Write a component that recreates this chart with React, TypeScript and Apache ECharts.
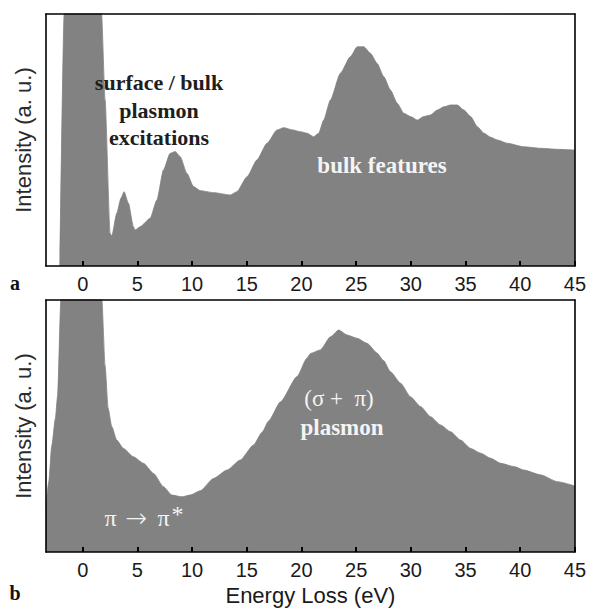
import React, { useEffect, useRef } from "react";
import * as echarts from "echarts";

// Panel a: energy loss (eV) and intensity (a. u., % of frame height; >100 is off-scale)
const energyA = [-2.1, -1.7, -1.6, 0, 1.6, 1.72, 2.04, 2.5, 2.66, 3.11, 3.5, 3.78, 4.18, 4.63, 4.79, 5.25, 6.16, 6.78, 7.38, 7.99, 8.45, 8.91, 9.52, 10.13, 10.74, 11.96, 13.49, 14.1, 15.02, 15.93, 16.85, 17.77, 18.37, 19.2, 19.9, 20.51, 21.12, 21.58, 22.03, 22.65, 23.56, 24.48, 25.09, 25.7, 26.31, 26.92, 27.53, 28.14, 28.75, 29.36, 29.97, 30.59, 31.19, 31.8, 32.42, 33.02, 33.64, 34.25, 34.85, 35.47, 36.08, 36.69, 37.3, 37.91, 38.83, 40.35, 41.88, 43.41, 45];
const intensityA = [0, 100, 130, 130, 130, 100, 66, 13, 11.9, 20.9, 27, 29.5, 24.9, 15.6, 14.3, 15.6, 18.9, 26.2, 38.1, 44.7, 45.4, 43.4, 36.8, 31.5, 29.9, 29.1, 28.2, 29.5, 35.4, 42.1, 48.7, 54, 54.9, 54, 53.3, 52.7, 51.3, 52.7, 57.9, 65.9, 76.5, 83.1, 87, 87, 84.4, 80.4, 75.1, 69.8, 64.6, 60.6, 59.3, 57.9, 59.3, 59.9, 61.9, 63.2, 63.9, 63.9, 61.9, 59.3, 55.3, 52.7, 51.1, 50, 48.7, 47.3, 46.7, 46.3, 46];

// Panel b
const energyB = [-3.36, -3.1, -2.84, -2.5, -2.3, -2.0, -1.9, 0, 1.6, 1.75, 2.04, 2.32, 2.66, 3.11, 3.72, 4.63, 5.55, 6.47, 7.38, 8.15, 9.07, 9.83, 10.74, 11.96, 13.19, 14.4, 15.62, 16.4, 17.0, 18.07, 19.6, 20.5, 20.82, 21.73, 22.65, 23.41, 24.17, 25.09, 26.0, 26.9, 27.5, 28.14, 29.06, 29.97, 30.89, 31.8, 32.72, 33.64, 34.55, 35.47, 36.39, 37.3, 38.22, 39.43, 40.35, 41.88, 43.41, 45];
const intensityB = [18, 28, 42, 53, 62, 100, 130, 130, 130, 100, 74, 57, 49.7, 44.4, 41.1, 37.8, 35.2, 31.2, 25.9, 22.6, 21.9, 22.6, 24.3, 29.2, 32.5, 36.5, 42.5, 47.5, 52, 59.5, 69.6, 76.9, 78.8, 80.2, 85.4, 88.1, 86.1, 84.8, 82.8, 79, 76, 71.5, 67, 61.6, 57.7, 53.7, 50.4, 47.7, 44.4, 41.1, 39.2, 37.2, 35.2, 33.9, 32.5, 30.6, 27.9, 26.2];

const tickValues = [0, 5, 10, 15, 20, 25, 30, 35, 40, 45];
const X_MIN = -3.36;
const X_MAX = 45;

const FILL = "#828282";
const SANS = "'Liberation Sans', Arial, sans-serif";
const SERIF = "'Liberation Serif', 'Times New Roman', serif";

function zip(xs: number[], ys: number[]) {
  return xs.map((x, i) => [x, ys[i]]);
}

export default function App() {
  const ref = useRef<HTMLDivElement>(null);
  useEffect(() => {
    if (!ref.current) return;
    const chart = echarts.init(ref.current, undefined, { renderer: "svg" });
    const grids = [
      { left: 46, top: 14, width: 529, height: 252 },
      { left: 46, top: 300, width: 529, height: 252 },
    ];
    const lineStyle = { color: "#000", width: 1.6 };
    const xAxes: any[] = [];
    const yAxes: any[] = [];
    [0, 1].forEach((g) => {
      xAxes.push({
        type: "value",
        gridIndex: g,
        min: X_MIN,
        max: X_MAX,
        z: 10,
        axisLine: { show: true, onZero: false, lineStyle },
        axisTick: {
          show: true,
          inside: true,
          length: 5,
          customValues: tickValues,
          lineStyle: { color: "#000", width: 2 },
        },
        axisLabel: {
          show: true,
          customValues: tickValues,
          fontFamily: SANS,
          fontSize: 20,
          color: "#1a1a1a",
          margin: 8,
        },
        splitLine: { show: false },
        name: g === 1 ? "Energy Loss (eV)" : "",
        nameLocation: "middle",
        nameGap: 32,
        nameTextStyle: { fontFamily: SANS, fontSize: 22, color: "#1a1a1a" },
      });
      xAxes.push({
        type: "value",
        gridIndex: g,
        position: "top",
        min: X_MIN,
        max: X_MAX,
        z: 10,
        axisLine: { show: true, onZero: false, lineStyle },
        axisTick: { show: false },
        axisLabel: { show: false },
        splitLine: { show: false },
      });
      yAxes.push({
        type: "value",
        gridIndex: g,
        min: 0,
        max: 100,
        z: 10,
        axisLine: { show: true, onZero: false, lineStyle },
        axisTick: { show: false },
        axisLabel: { show: false },
        splitLine: { show: false },
        name: "Intensity (a. u.)",
        nameLocation: "middle",
        nameGap: 12,
        nameTextStyle: { fontFamily: SANS, fontSize: 22, color: "#2a2a2a" },
      });
      yAxes.push({
        type: "value",
        gridIndex: g,
        position: "right",
        min: 0,
        max: 100,
        z: 10,
        axisLine: { show: true, onZero: false, lineStyle },
        axisTick: { show: false },
        axisLabel: { show: false },
        splitLine: { show: false },
      });
    });

    const mkSeries = (data: number[][], g: number) => ({
      type: "line",
      xAxisIndex: g * 2,
      yAxisIndex: g * 2,
      data,
      showSymbol: false,
      smooth: 0.2,
      smoothMonotone: "x",
      clip: true,
      lineStyle: { width: 0.8, color: FILL },
      areaStyle: { color: FILL, opacity: 1 },
      z: 2,
    });

    const boldSerif = (text: string, x: number, y: number, fill: string, size = 22) => ({
      type: "text",
      x,
      y,
      z: 20,
      style: {
        text,
        fill,
        font: `bold ${size}px ${SERIF}`,
        textAlign: "center",
        textVerticalAlign: "middle",
      },
    });
    const plainSerif = (text: string, x: number, y: number, fill: string, size = 22) => ({
      type: "text",
      x,
      y,
      z: 20,
      style: {
        text,
        fill,
        font: `${size}px ${SERIF}`,
        textAlign: "center",
        textVerticalAlign: "middle",
      },
    });

    const WHITE = "#f4f4f4";
    chart.setOption({
      animation: false,
      backgroundColor: "#fff",
      grid: grids,
      xAxis: xAxes,
      yAxis: yAxes,
      series: [mkSeries(zip(energyA, intensityA), 0), mkSeries(zip(energyB, intensityB), 1)],
      graphic: [
        boldSerif("surface / bulk", 159, 82, "#1e1e1e"),
        boldSerif("plasmon", 159, 110, "#1e1e1e"),
        boldSerif("excitations", 159, 137, "#1e1e1e"),
        boldSerif("bulk features", 382, 165, WHITE, 23),
        plainSerif("(σ +  π)", 339, 398, WHITE, 23),
        boldSerif("plasmon", 342, 427, WHITE, 23),
        {
          type: "text",
          x: 144,
          y: 518,
          z: 20,
          style: {
            text: "{p|π}{a|→}{p|π}{s|*}",
            textAlign: "center",
            textVerticalAlign: "middle",
            rich: {
              p: { fontFamily: SERIF, fontSize: 24, fill: WHITE, color: WHITE },
              a: {
                fontFamily: "'DejaVu Sans', sans-serif",
                fontWeight: 200,
                fontSize: 26,
                fill: WHITE,
                color: WHITE,
                padding: [0, 10, 0, 9],
              },
              s: { fontFamily: SERIF, fontSize: 24, fill: WHITE, color: WHITE, verticalAlign: "top", padding: [0, 0, 8, 2] },
            },
          },
        },
        boldSerif("a", 15, 283, "#111", 20),
        boldSerif("b", 15, 593, "#111", 20),
      ],
    });
    return () => chart.dispose();
  }, []);
  return <div ref={ref} style={{ width: 589, height: 609, position: "absolute", left: 0, top: 0 }} />;
}
